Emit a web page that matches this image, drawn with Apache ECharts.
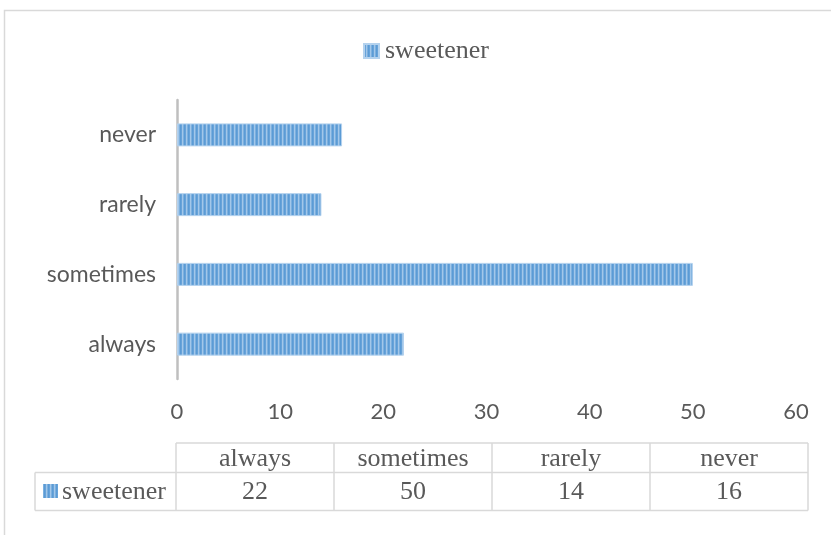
<!DOCTYPE html>
<html><head><meta charset="utf-8">
<script src="https://cdn.jsdelivr.net/npm/echarts@6/dist/echarts.min.js"></script>
<style>html,body{margin:0;padding:0;background:#fff}#c{width:831px;height:535px}</style>
</head><body><div id="c"></div>
<script>
var categories = ['always', 'sometimes', 'rarely', 'never'];
var seriesName = 'sweetener';
var values = [22, 50, 14, 16];
var xTicks = [0, 10, 20, 30, 40, 50, 60];

function makePattern() {
  var c = document.createElement('canvas');
  c.width = 4; c.height = 4;
  var ctx = c.getContext('2d');
  var cols = ['#5b9bd5', '#68a3d9', '#a3c7e9', '#7cb0df'];
  for (var i = 0; i < 4; i++) { ctx.fillStyle = cols[i]; ctx.fillRect(i, 0, 1, 4); }
  return c;
}
var pattern = { image: makePattern(), repeat: 'repeat' };

var chart = echarts.init(document.getElementById('c'), null, { renderer: 'canvas' });

var gridLeft = 177, gridRight = 35, gridTop = 100, gridBottom = 156;
var tblLeft = 176, colW = 158, rowTop = 443, rowMid = 472.5, rowBot = 510.5, labelLeft = 35;
var lineColor = '#d9d9d9';
var serif = '"Liberation Serif", "Times New Roman", serif';
var serifSize = 26;

var graphics = [];
graphics.push({ type: 'rect', shape: { x: 4.5, y: 10.5, width: 900, height: 600 }, style: { fill: 'none', stroke: lineColor, lineWidth: 1.5 }, silent: true });
var tblRight = tblLeft + colW * categories.length;
graphics.push({ type: 'line', shape: { x1: tblLeft, y1: rowTop, x2: tblRight, y2: rowTop }, style: { stroke: lineColor, lineWidth: 1.5 } });
graphics.push({ type: 'line', shape: { x1: labelLeft, y1: rowMid, x2: tblRight, y2: rowMid }, style: { stroke: lineColor, lineWidth: 1.5 } });
graphics.push({ type: 'line', shape: { x1: labelLeft, y1: rowBot, x2: tblRight, y2: rowBot }, style: { stroke: lineColor, lineWidth: 1.5 } });
graphics.push({ type: 'line', shape: { x1: labelLeft, y1: rowMid, x2: labelLeft, y2: rowBot }, style: { stroke: lineColor, lineWidth: 1.5 } });
for (var i = 0; i <= categories.length; i++) {
  var x = tblLeft + colW * i;
  graphics.push({ type: 'line', shape: { x1: x, y1: rowTop, x2: x, y2: rowBot }, style: { stroke: lineColor, lineWidth: 1.5 } });
}
for (var j = 0; j < categories.length; j++) {
  var cx = tblLeft + colW * j + colW / 2;
  graphics.push({ type: 'text', x: cx, y: (rowTop + rowMid) / 2 + 1, style: { text: categories[j], fill: '#595959', font: serifSize + 'px ' + serif, align: 'center', verticalAlign: 'middle' } });
  graphics.push({ type: 'text', x: cx, y: (rowMid + rowBot) / 2 + 1, style: { text: String(values[j]), fill: '#595959', font: serifSize + 'px ' + serif, align: 'center', verticalAlign: 'middle' } });
}
graphics.push({ type: 'rect', shape: { x: 43, y: 484, width: 15, height: 14 }, style: { fill: pattern } });
graphics.push({ type: 'text', x: 62, y: (rowMid + rowBot) / 2 + 1, style: { text: seriesName, fill: '#595959', font: serifSize + 'px ' + serif, align: 'left', verticalAlign: 'middle' } });

chart.setOption({
  animation: false,
  backgroundColor: '#fff',
  legend: {
    data: [seriesName], left: 363, top: 38, padding: 0, icon: 'rect', itemWidth: 15, itemHeight: 14, itemGap: 5,
    textStyle: { fontFamily: serif, fontSize: serifSize, color: '#595959', padding: [0, 0, 0, 1] }
  },
  grid: { left: gridLeft, right: gridRight, top: gridTop, bottom: gridBottom, containLabel: false },
  xAxis: {
    type: 'value', min: 0, max: 60, interval: 10,
    axisLine: { show: false }, axisTick: { show: false }, splitLine: { show: false },
    axisLabel: { color: '#595959', fontFamily: 'Lato, sans-serif', fontSize: 22, margin: 22,
      formatter: function (v) { return xTicks.indexOf(v) >= 0 ? String(v) : ''; } }
  },
  yAxis: {
    type: 'category', data: categories,
    axisLine: { show: true, lineStyle: { color: '#bfbfbf', width: 2.5 } },
    axisTick: { show: false },
    axisLabel: { color: '#595959', fontFamily: 'Lato, sans-serif', fontSize: 23, margin: 21 }
  },
  series: [{
    name: seriesName, type: 'bar', data: values, barWidth: 23,
    itemStyle: { color: pattern, borderColor: '#b4d2ee', borderWidth: 1 }
  }],
  graphic: graphics
});
</script></body></html>
